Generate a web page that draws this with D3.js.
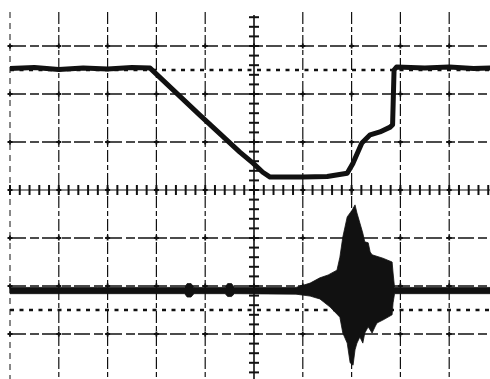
<!DOCTYPE html>
<html>
<head>
<meta charset="utf-8">
<script src="https://cdn.jsdelivr.net/npm/d3@7"></script>
<style>
html,body{margin:0;padding:0;background:#fff;}
svg{display:block;}
</style>
</head>
<body>
<svg id="chart" width="490" height="379"></svg>
<script>
// ---- data (time in divisions, amplitude in divisions) ----
const xDivs = [0,1,2,3,4,5,6,7,8,9,10];
const yDivs = [-4,-3,-2,-1,0,1,2,3,4];
const refLevels = [2.5, -2.5];
const minorStep = 0.2;

const ch1 = [
  [0,2.53],[0.5,2.55],[1.0,2.51],[1.5,2.54],[2.0,2.52],[2.5,2.55],[2.87,2.54],
  [3.89,1.56],[4.71,0.79],[4.98,0.56],[5.18,0.37],[5.33,0.27],[6.0,0.27],[6.5,0.28],
  [6.91,0.35],[7.03,0.56],[7.21,0.98],[7.38,1.15],[7.58,1.21],[7.79,1.31],[7.84,1.36],
  [7.87,2.5],[7.92,2.56],[8.5,2.54],[9.0,2.56],[9.5,2.53],[10,2.55]
];

const ch2Upper = [
  [0,-2.03],[1.8,-2.03],[3.58,-2.03],[3.63,-1.95],[3.71,-1.95],[3.77,-2.03],
  [4.41,-2.03],[4.46,-1.95],[4.54,-1.95],[4.6,-2.03],[5.86,-2.03],[6.15,-1.94],
  [6.35,-1.83],[6.52,-1.77],[6.70,-1.67],[6.76,-1.40],[6.82,-0.98],[6.91,-0.56],
  [7.01,-0.42],[7.07,-0.31],[7.11,-0.48],[7.17,-0.69],[7.23,-0.90],[7.27,-1.08],
  [7.34,-1.10],[7.38,-1.29],[7.42,-1.35],[7.64,-1.42],[7.83,-1.50],[7.85,-1.73],
  [7.88,-2.03],[10,-2.03]
];
const ch2Lower = [
  [0,-2.16],[3.58,-2.16],[3.63,-2.23],[3.71,-2.23],[3.77,-2.16],[4.41,-2.16],
  [4.46,-2.22],[4.54,-2.22],[4.6,-2.16],[5.86,-2.17],[6.15,-2.21],[6.35,-2.27],
  [6.56,-2.44],[6.76,-2.65],[6.82,-2.98],[6.91,-3.19],[6.97,-3.60],[7.03,-3.65],
  [7.07,-3.33],[7.11,-3.19],[7.17,-3.06],[7.23,-3.19],[7.27,-2.98],[7.34,-2.85],
  [7.42,-2.98],[7.48,-2.85],[7.52,-2.77],[7.64,-2.71],[7.83,-2.60],[7.85,-2.35],
  [7.88,-2.16],[10,-2.16]
];

// ---- drawing ----
const svg = d3.select("#chart");
const W = 490, H = 379;
const x = d3.scaleLinear().domain([0,10]).range([10,498]);
const y = d3.scaleLinear().domain([-4,4]).range([382,-2]);
const ink = "#111";
const gridTop = 12;

const g = svg.append("g");

// horizontal grid lines
g.selectAll("line.h").data(yDivs.filter(d=>d!==0)).join("line")
  .attr("x1", x(0)).attr("x2", W)
  .attr("y1", d=>y(d)).attr("y2", d=>y(d))
  .attr("stroke", ink).attr("stroke-width", 1.3)
  .attr("stroke-dasharray", "16,4,9,3");

// vertical grid lines
g.selectAll("line.v").data(xDivs.filter(d=>d!==5)).join("line")
  .attr("x1", d=>x(d)).attr("x2", d=>x(d))
  .attr("y1", gridTop).attr("y2", H)
  .attr("stroke", ink).attr("stroke-width", d=> d===0 ? 1 : 1.2)
  .attr("stroke-dasharray", d=> d===0 ? "6,5" : "12,3,5,3");

// reference (dotted) levels
g.selectAll("line.ref").data(refLevels).join("line")
  .attr("x1", x(0)).attr("x2", W)
  .attr("y1", d=>y(d)).attr("y2", d=>y(d))
  .attr("stroke", ink).attr("stroke-width", 2.4)
  .attr("stroke-dasharray", "4,5.5");

// centre axes
g.append("line").attr("x1", x(0)).attr("x2", W).attr("y1", y(0)).attr("y2", y(0))
  .attr("stroke", ink).attr("stroke-width", 1.2);
g.append("line").attr("x1", x(5)).attr("x2", x(5)).attr("y1", gridTop+3).attr("y2", H)
  .attr("stroke", ink).attr("stroke-width", 1.6);

// minor ticks on horizontal centre axis
const xMinor = d3.range(0, 10.001, minorStep);
g.selectAll("line.mx").data(xMinor).join("line")
  .attr("x1", d=>x(d)).attr("x2", d=>x(d))
  .attr("y1", y(0)-5).attr("y2", y(0)+5)
  .attr("stroke", ink).attr("stroke-width", 2);

// minor ticks on vertical centre axis
const yMinor = d3.range(-4, 4.001, minorStep).filter(d=>y(d) > gridTop+3 && y(d) < H);
g.selectAll("line.my").data(yMinor).join("line")
  .attr("x1", x(5)-5).attr("x2", x(5)+5)
  .attr("y1", d=>y(d)).attr("y2", d=>y(d))
  .attr("stroke", ink).attr("stroke-width", 2);

// small crosses at intersections
const inter = [];
xDivs.forEach(a=>yDivs.forEach(b=>inter.push([a,b])));
g.selectAll("path.cross").data(inter.filter(d=>y(d[1])>gridTop && y(d[1])<H)).join("path")
  .attr("d", d=>`M${x(d[0])-2.5},${y(d[1])}h5M${x(d[0])},${y(d[1])-2.5}v5`)
  .attr("stroke", ink).attr("stroke-width", 1.8);

// channel 1 trace
const line = d3.line().x(d=>x(d[0])).y(d=>y(d[1]));
g.append("path").datum(ch1)
  .attr("d", line)
  .attr("fill", "none").attr("stroke", ink)
  .attr("stroke-width", 5).attr("stroke-linejoin", "round");

// channel 2 trace (band)
const poly = ch2Upper.concat(ch2Lower.slice().reverse());
g.append("path").datum(poly)
  .attr("d", d=>line(d)+"Z")
  .attr("fill", ink).attr("stroke", ink).attr("stroke-width", 0.8);
</script>
</body>
</html>
